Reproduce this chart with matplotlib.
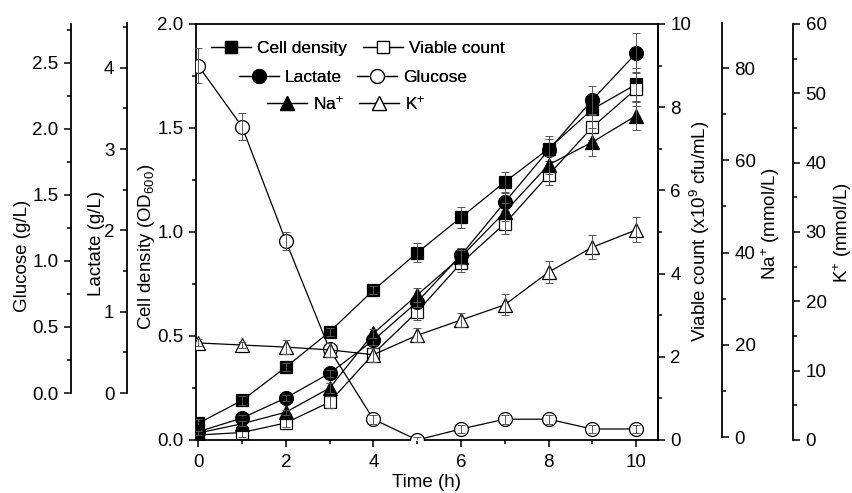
import matplotlib
matplotlib.use('Agg')
import matplotlib.pyplot as plt
from matplotlib.ticker import MultipleLocator
from matplotlib.lines import Line2D

plt.rcParams['font.family'] = ['Liberation Sans', 'DejaVu Sans']
plt.rcParams['mathtext.fontset'] = 'custom'
plt.rcParams['mathtext.rm'] = 'Liberation Sans'
plt.rcParams['mathtext.it'] = 'Liberation Sans:italic'

# ---------------- data ----------------
time = [0, 1, 2, 3, 4, 5, 6, 7, 8, 9, 10]
cell_density = [0.08, 0.19, 0.35, 0.52, 0.72, 0.90, 1.07, 1.24, 1.40, 1.59, 1.71]
cell_density_err = [0.02, 0.02, 0.02, 0.02, 0.02, 0.045, 0.05, 0.05, 0.06, 0.06, 0.08]
viable_count = [0.12, 0.18, 0.41, 0.91, 2.07, 3.08, 4.25, 5.2, 6.37, 7.52, 8.44]
viable_count_err = [0.05, 0.1, 0.1, 0.15, 0.15, 0.2, 0.2, 0.25, 0.25, 0.3, 0.4]
lactate = [0.09, 0.24, 0.46, 0.73, 1.09, 1.51, 2.02, 2.60, 3.17, 3.72, 4.23]
lactate_err = [0.02, 0.03, 0.03, 0.04, 0.05, 0.05, 0.08, 0.1, 0.12, 0.15, 0.22]
glucose = [2.52, 2.11, 1.34, 0.61, 0.14, 0.0, 0.074, 0.14, 0.14, 0.074, 0.074]
glucose_err = [0.12, 0.09, 0.06, 0.04, 0.03, 0.02, 0.03, 0.03, 0.03, 0.03, 0.03]
sodium = [1.5, 3.5, 6.0, 11.2, 23.0, 31.3, 39.5, 49.2, 59.4, 64.3, 70.0]
sodium_err = [0.5, 0.5, 0.5, 1.0, 1.0, 1.5, 1.5, 2.0, 2.0, 3.0, 3.0]
potassium = [14.0, 13.7, 13.4, 13.0, 12.3, 15.1, 17.3, 19.5, 24.2, 27.8, 30.3]
potassium_err = [0.5, 0.5, 1.0, 1.0, 1.0, 1.0, 1.0, 1.5, 1.6, 1.7, 1.8]

FS = 13.5
W, H = 853, 493
fig = plt.figure(figsize=(W / 100, H / 100), dpi=100)


def pos(l, t, r, b):
    return [l / W, 1 - b / H, (r - l) / W, (b - t) / H]


main_rect = pos(196, 24, 658, 440)
ax = fig.add_axes(main_rect)
ax.set_xlim(-0.05, 10.5)
ax.set_ylim(0, 2.0)
for s in ax.spines.values():
    s.set_linewidth(1.3)
ax.xaxis.set_major_locator(MultipleLocator(2))
ax.xaxis.set_minor_locator(MultipleLocator(1))
ax.yaxis.set_major_locator(MultipleLocator(0.5))
ax.yaxis.set_minor_locator(MultipleLocator(0.25))
ax.tick_params(which='both', direction='out', top=False, right=False, width=1.1, labelsize=FS)
ax.tick_params(which='major', length=5, pad=4)
ax.tick_params(axis='x', which='major', pad=5)
ax.tick_params(which='minor', length=3)
ax.yaxis.set_major_formatter(matplotlib.ticker.FormatStrFormatter('%.1f'))


def twin(lim):
    a = ax.twinx()
    a.set_ylim(*lim)
    a.set_xlim(ax.get_xlim())
    for s in a.spines.values():
        s.set_visible(False)
    a.tick_params(which='both', right=False, left=False, labelright=False, labelleft=False)
    return a


ax_vc = ax.twinx()
ax_vc.set_ylim(0, 10)
for k in ['left', 'top', 'bottom']:
    ax_vc.spines[k].set_visible(False)
ax_vc.spines['right'].set_linewidth(1.3)
ax_vc.yaxis.set_major_locator(MultipleLocator(2))
ax_vc.yaxis.set_minor_locator(MultipleLocator(1))
ax_vc.tick_params(which='both', direction='out', width=1.1, labelsize=FS)
ax_vc.tick_params(which='major', length=5, pad=4)
ax_vc.tick_params(which='minor', length=3)

ax_lac = twin((0, 4.55))
ax_glu = twin((0, 2.8))
ax_na = twin((0, 89.8))
ax_k = twin((0, 60))


def series(a, y, err, marker, filled, ms):
    a.plot(time, y, color='black', lw=0.9, marker=marker, ms=ms,
           mfc='black' if filled else 'white', mec='black', mew=0.9, zorder=3)
    a.errorbar(time, y, yerr=err, fmt='none', ecolor='#555555', elinewidth=0.7,
               capsize=3, capthick=0.7, zorder=4)


series(ax, cell_density, cell_density_err, 's', True, 8.5)
series(ax_vc, viable_count, viable_count_err, 's', False, 8.5)
series(ax_lac, lactate, lactate_err, 'o', True, 10)
series(ax_glu, glucose, glucose_err, 'o', False, 10)
series(ax_na, sodium, sodium_err, '^', True, 10.5)
series(ax_k, potassium, potassium_err, '^', False, 10.5)

ax.set_xlabel('Time (h)', fontsize=FS, labelpad=2)

# axis labels
fig.text(147 / W, 1 - 247 / H, 'Cell density (OD$_{600}$)', rotation=90, ha='center', va='center', fontsize=FS)
fig.text(700 / W, 1 - 231 / H, 'Viable count (x10$^{9}$ cfu/mL)', rotation=90, ha='center', va='center', fontsize=FS)


# decoration axes
def deco(x, top, bottom, lim, major, minor, side, label, lx, ly):
    a = fig.add_axes([x / W, 1 - bottom / H, 0.0001, (bottom - top) / H])
    a.patch.set_visible(False)
    for k, s in a.spines.items():
        s.set_visible(k == side)
        s.set_linewidth(1.3)
    a.set_ylim(*lim)
    a.set_xticks([])
    a.yaxis.set_major_locator(MultipleLocator(major))
    a.yaxis.set_minor_locator(MultipleLocator(minor))
    if side == 'left':
        a.tick_params(which='both', direction='out', left=True, right=False, labelleft=True, labelright=False,
                      width=1.1, labelsize=FS)
    else:
        a.yaxis.set_ticks_position('right')
        a.tick_params(which='both', direction='out', left=False, right=True, labelleft=False, labelright=True,
                      width=1.1, labelsize=FS)
    a.tick_params(which='major', length=5, pad=4)
    a.tick_params(which='minor', length=3)
    fig.text(lx / W, 1 - ly / H, label, rotation=90, ha='center', va='center', fontsize=FS)
    return a


g = deco(71, 24, 393, (0, 2.795), 0.5, 0.25, 'left', 'Glucose (g/L)', 23, 256)
g.yaxis.set_major_formatter(matplotlib.ticker.FormatStrFormatter('%.1f'))
deco(127, 23, 393, (0, 4.55), 1, 0.5, 'left', 'Lactate (g/L)', 97, 243)
deco(722, 23, 437, (0, 89.8), 20, 10, 'right', 'Na$^{+}$ (mmol/L)', 771, 224)
deco(793, 24, 440, (0, 60), 10, 5, 'right', 'K$^{+}$ (mmol/L)', 843, 233)


# legend rows
def h(marker, filled, ms):
    return Line2D([], [], color='black', lw=0.9, marker=marker, ms=ms,
                  mfc='black' if filled else 'white', mec='black', mew=0.9)


rows = [
    ([h('s', True, 8.5), h('s', False, 8.5)], ['Cell density', 'Viable count'], 358, 48),
    ([h('o', True, 10), h('o', False, 10)], ['Lactate', 'Glucose'], 353, 77),
    ([h('^', True, 10.5), h('^', False, 10.5)], ['Na$^{+}$', 'K$^{+}$'], 346, 103),
]
for handles, labels, cx, cy in rows:
    leg = fig.legend(handles, labels, ncol=2, loc='center', bbox_to_anchor=(cx / W, 1 - cy / H),
                     bbox_transform=fig.transFigure, frameon=False, fontsize=12.5, handlelength=2.3,
                     handletextpad=0.35, columnspacing=0.9, borderpad=0, borderaxespad=0)
    fig.add_artist(leg)

fig.savefig('out.png', dpi=100)
